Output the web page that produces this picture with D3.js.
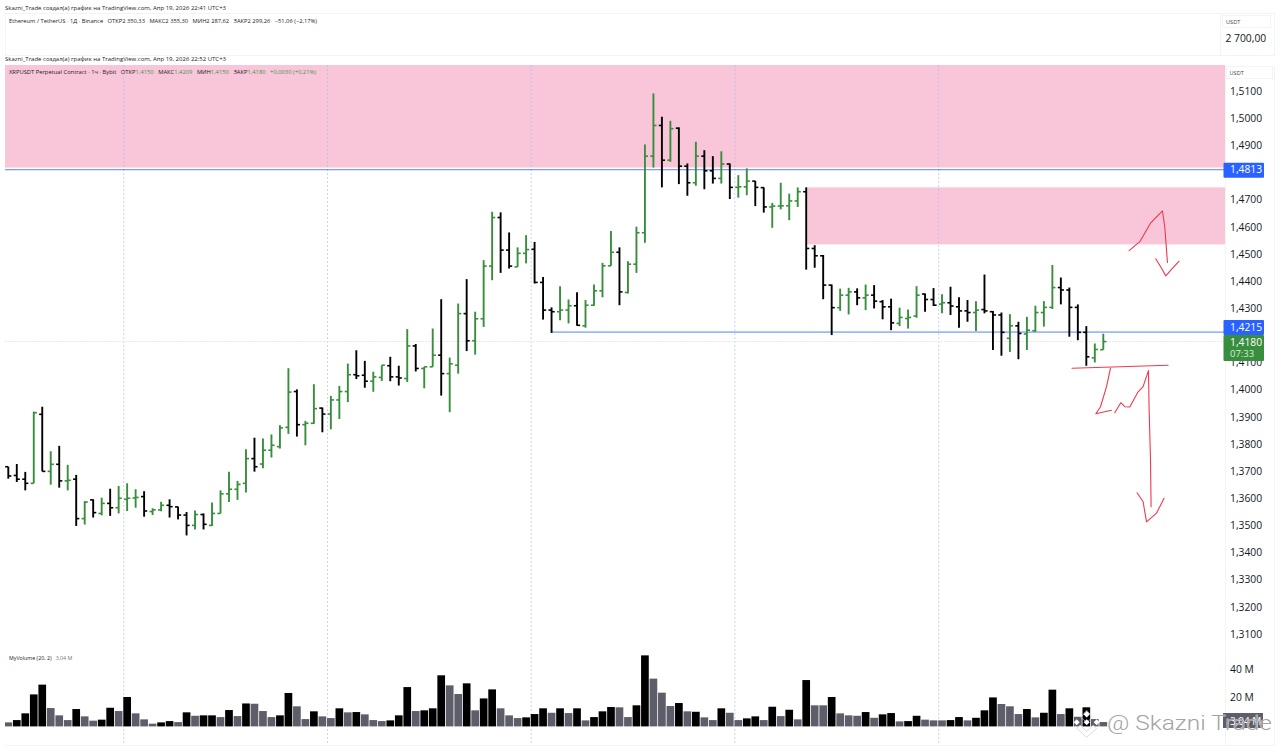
<!DOCTYPE html>
<html><head><meta charset="utf-8">
<script src="https://cdn.jsdelivr.net/npm/d3@7/dist/d3.min.js"></script>
<style>html,body{margin:0;padding:0;background:#fff;overflow:hidden}svg{display:block}svg text{white-space:pre}</style>
</head><body><svg id="c" width="1280" height="748"></svg>
<script>
const barOpen=[1.3719,1.3687,1.3673,1.3658,1.3912,1.3702,1.3728,1.3667,1.3673,1.3528,
1.3597,1.3547,1.3584,1.3568,1.3599,1.3604,1.3609,1.3554,1.3560,1.3577,
1.3571,1.3541,1.3503,1.3543,1.3503,1.3547,1.3619,1.3636,1.3658,1.3749,
1.3729,1.3780,1.3793,1.3864,1.3996,1.3874,1.3879,1.3935,1.3913,1.3965,
1.3996,1.4058,1.4056,1.4034,1.4048,1.4091,1.4050,1.4044,1.4164,1.4081,
1.4087,1.4130,1.4062,1.4093,1.4283,1.4183,1.4264,1.4458,1.4637,1.4517,
1.4455,1.4505,1.4520,1.4398,1.4296,1.4290,1.4296,1.4312,1.4238,1.4314,
1.4367,1.4459,1.4509,1.4361,1.4465,1.4581,1.4863,1.4976,1.4848,1.4966,
1.4826,1.4765,1.4863,1.4809,1.4781,1.4834,1.4748,1.4750,1.4771,1.4747,
1.4676,1.4679,1.4680,1.4698,1.4732,1.4523,1.4496,1.4388,1.4305,1.4351,
1.4363,1.4341,1.4351,1.4327,1.4308,1.4247,1.4265,1.4274,1.4355,1.4335,
1.4318,1.4323,1.4308,1.4293,1.4287,1.4298,1.4290,1.4278,1.4192,1.4238,
1.4208,1.4220,1.4287,1.4306,1.4379,1.4370,1.4306,1.4214,1.4120,1.4150];
const barHigh=[1.3719,1.3729,1.3700,1.3922,1.3940,1.3776,1.3796,1.3726,1.3689,1.3592,
1.3599,1.3605,1.3638,1.3648,1.3658,1.3636,1.3629,1.3566,1.3590,1.3599,
1.3572,1.3552,1.3558,1.3547,1.3587,1.3632,1.3701,1.3667,1.3783,1.3826,
1.3823,1.3838,1.3872,1.4082,1.4004,1.3888,1.4023,1.3937,1.3980,1.4017,
1.4099,1.4148,1.4109,1.4069,1.4093,1.4124,1.4091,1.4226,1.4171,1.4087,
1.4228,1.4336,1.4121,1.4320,1.4410,1.4290,1.4480,1.4658,1.4656,1.4582,
1.4527,1.4572,1.4547,1.4418,1.4306,1.4384,1.4335,1.4362,1.4333,1.4390,
1.4470,1.4587,1.4527,1.4476,1.4603,1.4906,1.5094,1.5008,1.4993,1.4969,
1.4836,1.4916,1.4885,1.4863,1.4881,1.4836,1.4793,1.4818,1.4772,1.4748,
1.4691,1.4765,1.4725,1.4748,1.4748,1.4535,1.4499,1.4390,1.4375,1.4378,
1.4376,1.4390,1.4388,1.4333,1.4338,1.4305,1.4298,1.4384,1.4357,1.4377,
1.4354,1.4382,1.4343,1.4333,1.4329,1.4427,1.4293,1.4287,1.4281,1.4253,
1.4271,1.4312,1.4329,1.4462,1.4416,1.4379,1.4317,1.4237,1.4173,1.4209];
const barLow=[1.3675,1.3663,1.3632,1.3658,1.3702,1.3653,1.3642,1.3632,1.3501,1.3506,
1.3532,1.3540,1.3538,1.3547,1.3556,1.3568,1.3535,1.3541,1.3555,1.3532,
1.3525,1.3466,1.3488,1.3488,1.3501,1.3547,1.3589,1.3597,1.3624,1.3701,
1.3713,1.3753,1.3786,1.3840,1.3830,1.3798,1.3877,1.3846,1.3857,1.3895,
1.3957,1.4042,1.4010,1.3995,1.4035,1.4034,1.4018,1.4031,1.4070,1.4008,
1.4087,1.3981,1.3920,1.4062,1.4145,1.4132,1.4234,1.4406,1.4433,1.4449,
1.4455,1.4468,1.4394,1.4261,1.4212,1.4259,1.4247,1.4238,1.4231,1.4312,
1.4343,1.4459,1.4314,1.4357,1.4433,1.4544,1.4821,1.4748,1.4842,1.4760,
1.4717,1.4754,1.4741,1.4762,1.4762,1.4705,1.4710,1.4719,1.4679,1.4655,
1.4599,1.4667,1.4627,1.4676,1.4445,1.4452,1.4336,1.4204,1.4293,1.4280,
1.4314,1.4296,1.4302,1.4262,1.4222,1.4237,1.4228,1.4268,1.4290,1.4311,
1.4284,1.4278,1.4231,1.4253,1.4219,1.4284,1.4149,1.4128,1.4142,1.4115,
1.4149,1.4216,1.4235,1.4300,1.4317,1.4198,1.4185,1.4091,1.4103,1.4150];
const barClose=[1.3685,1.3673,1.3658,1.3918,1.3702,1.3728,1.3667,1.3669,1.3528,1.3589,
1.3550,1.3584,1.3568,1.3603,1.3603,1.3606,1.3556,1.3560,1.3577,1.3572,
1.3541,1.3503,1.3543,1.3507,1.3547,1.3619,1.3636,1.3654,1.3749,1.3719,
1.3780,1.3798,1.3862,1.3994,1.3874,1.3879,1.3933,1.3913,1.3965,1.3996,
1.4058,1.4054,1.4034,1.4050,1.4093,1.4050,1.4046,1.4164,1.4081,1.4087,
1.4130,1.4062,1.4098,1.4283,1.4183,1.4264,1.4458,1.4637,1.4517,1.4458,
1.4505,1.4519,1.4398,1.4296,1.4290,1.4296,1.4312,1.4240,1.4314,1.4367,
1.4459,1.4509,1.4363,1.4465,1.4581,1.4863,1.4976,1.4848,1.4964,1.4826,
1.4765,1.4863,1.4809,1.4781,1.4834,1.4748,1.4750,1.4771,1.4748,1.4676,
1.4679,1.4680,1.4698,1.4732,1.4523,1.4496,1.4388,1.4305,1.4351,1.4363,
1.4341,1.4351,1.4329,1.4308,1.4249,1.4269,1.4269,1.4351,1.4335,1.4314,
1.4323,1.4311,1.4293,1.4287,1.4296,1.4293,1.4278,1.4214,1.4238,1.4210,
1.4222,1.4287,1.4306,1.4379,1.4370,1.4306,1.4214,1.4124,1.4151,1.4180];
const volumes=[2.8,4.4,9.1,22.3,29.1,12.8,7.7,4.4,12.1,7.0,4.0,4.7,13.0,10.7,20.5,9.1,4.9,1.9,2.8,3.7,
3.0,9.8,7.4,7.7,7.7,6.5,11.4,7.2,16,15.8,10.7,6.5,7.7,23.3,14.0,5.1,10.5,7.0,5.8,12.6,
9.8,10,8.4,4.4,3.7,4.2,7.7,27.4,10.7,11.2,12.6,35.6,28.6,22.6,30,11.2,19.5,25.8,12.6,7.7,
5.8,6.3,8.6,12.6,9.5,12.6,9.3,12.6,4.2,6.5,10.5,13.5,13.3,6.5,14.7,49.5,33.3,23.5,14.2,16.3,
10.5,10.2,6.3,4.4,12.6,9.5,4.4,5.6,7.0,4.4,13.7,7.2,11.6,4.9,32.3,14.7,14.7,20.5,9.1,7.7,
7.4,10,6,8.4,9.3,3.5,3.7,7.4,4.7,4.2,4.2,4.4,6.5,4.2,6,11.2,20.2,15.6,14,8.6,
12.1,6.3,9.5,25.6,8.6,12.6,6.7,13.3,5.1,3.04];
const volumeDark="gkkkkgggkg"+"gkkgkgggkk"+"gkgkkgkgkg"+"ggkkggkggk"+"gkgggkkkgk"+"kkggkgkkgg"+"gkkkgkgkgk"+"kkggkkgggk"+"gkggkggkkg"+"kgkgkggkgg"+"gkgkkgkkgg"+"gkkgkkkggg"+"kgkkgkgkgg";
const priceTicks=d3.range(31,52).filter(d=>d!==42&&d!==48).map(d=>d/100+1);
const volumeTicks=[20,40];
const gridBars=[13.6,37.6,61.6,85.6,109.6];
const levelPrices=[1.4813,1.4215];
const lastPrice=1.4180;
const zonePrices=[[1.5205,1.4821,0,1],[1.4748,1.4538,94.1,1]];
const sketches=[
[[132.04,1.4515],[133.3,1.4548],[134.56,1.4616],[135.97,1.4661],[136.24,1.4603],[136.56,1.4471]],
[[135.18,1.4485],[135.86,1.4450],[136.36,1.4422],[137.03,1.4446],[137.93,1.4476]],
[[125.32,1.4082],[136.63,1.4093]],
[[129.85,1.4082],[129.38,1.4014],[128.67,1.3940],[128.12,1.3914],[129.96,1.3927]],
[[130.35,1.3918],[131.06,1.3955],[131.53,1.3940],[132.12,1.3939],[133.10,1.3995],[133.69,1.4014],[134.32,1.4073],[134.39,1.3940],[134.56,1.3744],[134.63,1.3572]],
[[132.98,1.3623],[133.69,1.3590],[134.09,1.3516],[135.27,1.3548],[136.16,1.3603]]];

const UI='"Open Sans",sans-serif', GREEN='#388e3c', BLUE='#2962ff', PINK='#f9c6d9';
const svg=d3.select('#c');
const x=d3.scaleLinear().domain([0,129]).range([8.3,1103.3]);
const y=d3.scaleLinear().domain([1.51,1.31]).range([91.8,634.8]);
const v=d3.scaleLinear().domain([0,40]).range([726.4,669]);
const bw=x(1)-x(0);
svg.append('defs').append('clipPath').attr('id','pane').append('rect').attr('x',5).attr('y',65).attr('width',1220).attr('height',680);
const plot=svg.append('g').attr('clip-path','url(#pane)');

// pink zones
const zoneData=zonePrices.map(z=>({top:z[0],bot:z[1],start:z[2]}));
plot.selectAll('rect.zone').data(zoneData).join('rect').attr('class','zone')
 .attr('x',d=>d.start?x(d.start):5).attr('y',d=>y(d.top))
 .attr('width',d=>1225-(d.start?x(d.start):5)).attr('height',d=>y(d.bot)-y(d.top)).attr('fill',PINK);

// grid
plot.selectAll('line.g').data(gridBars).join('line').attr('class','g')
 .attr('x1',d=>x(d)).attr('x2',d=>x(d)).attr('y1',65).attr('y2',745)
 .attr('stroke','#9db8f0').attr('stroke-opacity',.6).attr('stroke-width',1).attr('stroke-dasharray','2 2');
// last price line
plot.append('line').attr('x1',5).attr('x2',1225).attr('y1',y(lastPrice)).attr('y2',y(lastPrice))
 .attr('stroke','#e9e9e3').attr('stroke-width',1).attr('stroke-dasharray','2 1');

// frame
const frame=svg.append('g').attr('stroke','#f3f4f7').attr('fill','none');
frame.append('rect').attr('x',5.5).attr('y',13.5).attr('width',1269).attr('height',42);
frame.append('line').attr('x1',5).attr('x2',1275).attr('y1',745.5).attr('y2',745.5);
frame.append('line').attr('x1',1274.5).attr('x2',1274.5).attr('y1',65).attr('y2',745);
frame.append('line').attr('x1',1220.5).attr('x2',1220.5).attr('y1',14).attr('y2',55);
frame.append('line').attr('x1',1225.5).attr('x2',1225.5).attr('y1',66).attr('y2',745);
frame.append('rect').attr('x',1222.5).attr('y',15.5).attr('width',48).attr('height',12);
frame.append('rect').attr('x',1226.5).attr('y',66.5).attr('width',46).attr('height',12);

// levels
plot.selectAll('line.lv').data(levelPrices).join('line').attr('class','lv')
 .attr('x1',(d,i)=>i?x(64):5).attr('x2',1225).attr('y1',d=>y(d)).attr('y2',d=>y(d))
 .attr('stroke',BLUE).attr('stroke-opacity',.8).attr('stroke-width',1);

// volume
const bars=barOpen.map((o,i)=>({i,o,h:barHigh[i],l:barLow[i],c:barClose[i],vol:volumes[i],dark:volumeDark[i]==='k'}));
plot.selectAll('rect.v').data(bars).join('rect').attr('class','v')
 .attr('x',d=>x(d.i)-bw/2+.4).attr('width',bw-.8).attr('y',d=>v(d.vol)).attr('height',d=>v(0)-v(d.vol))
 .attr('fill',d=>d.dark?'#000':'#5e5e6a');

// OHLC bars
const gb=plot.selectAll('g.b').data(bars).join('g').attr('class','b')
 .attr('stroke',d=>d.c>=d.o?GREEN:'#000').attr('fill','none');
gb.append('line').attr('x1',d=>x(d.i)).attr('x2',d=>x(d.i)).attr('y1',d=>y(d.h)).attr('y2',d=>y(d.l)).attr('stroke-width',1.9);
gb.append('line').attr('x1',d=>x(d.i)-3.1).attr('x2',d=>x(d.i)).attr('y1',d=>y(d.o)).attr('y2',d=>y(d.o)).attr('stroke-width',1.6);
gb.append('line').attr('x1',d=>x(d.i)).attr('x2',d=>x(d.i)+3.1).attr('y1',d=>y(d.c)).attr('y2',d=>y(d.c)).attr('stroke-width',1.6);

// hand drawn
const sk=d3.line().x(d=>x(d[0])).y(d=>y(d[1]));
svg.selectAll('path.sk').data(sketches).join('path').attr('class','sk').attr('d',sk)
 .attr('fill','none').attr('stroke','#f0394d').attr('stroke-width',1.1).attr('stroke-linejoin','round').attr('stroke-linecap','round');

// axes
const fmt=d=>d.toFixed(4).replace('.',',');
const axP=svg.append('g').attr('transform','translate(1225,-0.8)')
 .call(d3.axisRight(y).tickValues(priceTicks).tickFormat(fmt).tickSize(0).tickPadding(5));
axP.select('.domain').remove();
axP.selectAll('text').attr('fill','#131722').attr('font-family',UI).attr('font-size',10.3);
const axV=svg.append('g').attr('transform','translate(1225,0)')
 .call(d3.axisRight(v).tickValues(volumeTicks).tickFormat(d=>d+' M').tickSize(0).tickPadding(5));
axV.select('.domain').remove();
axV.selectAll('text').attr('fill','#131722').attr('font-family',UI).attr('font-size',10.3);

function txt(s,px,py,size,fill,extra){const t=svg.append('text').attr('x',px).attr('y',py).attr('font-family',UI).attr('font-size',size).attr('fill',fill||'#131722').text(s);if(extra)t.attr('text-anchor',extra);return t;}
txt('USDT',1226,23.7,5.6,'#444');
txt('USDT',1229.5,75,5.6,'#444');
txt('2 700,00',1225.5,41.5,10.3);

// price labels
function tag(py,h,col){svg.append('rect').attr('x',1223.5).attr('y',py).attr('width',40.5).attr('height',h).attr('fill',col).attr('rx',1);}
tag(y(levelPrices[0])-7,15,BLUE); txt(fmt(levelPrices[0]),1230,y(levelPrices[0])+3.7,10.3,'#fff');
tag(320,15,BLUE); txt(fmt(levelPrices[1]),1230,330.5,10.3,'#fff');
tag(335,26,GREEN); txt(fmt(lastPrice),1230,345.5,10.3,'#fff'); txt('07:33',1230,356.5,9.5,'#d8ecd8');

// legends
function rich(px,py,parts,size){const t=svg.append('text').attr('x',px).attr('y',py).attr('font-family',UI).attr('font-size',size);
 parts.forEach(p=>t.append('tspan').attr('fill',p[1]||'#222').text(p[0]));return t;}
txt('Skazni_Trade создал(а) график на TradingView.com, Апр 19, 2026 22:41 UTC+3',5,9.5,5.3,'#222').attr('textLength',221).attr('lengthAdjust','spacingAndGlyphs');
txt('Skazni_Trade создал(а) график на TradingView.com, Апр 19, 2026 22:52 UTC+3',5,60.5,5.3,'#222').attr('textLength',221).attr('lengthAdjust','spacingAndGlyphs');
rich(9,23,[['Ethereum / TetherUS · 1Д · Binance   ОТКР2 350,33   МАКС2 355,30   МИН2 287,62   ЗАКР2 299,26   −51,06 (−2,17%)']],5.3).attr('textLength',308).attr('lengthAdjust','spacingAndGlyphs');
const g2='#43944a';
rich(9,74,[['XRPUSDT Perpetual Contract · 1ч · Bybit   ОТКР'],['1,4150',g2],['   МАКС'],['1,4209',g2],['   МИН'],['1,4150',g2],['   ЗАКР'],['1,4180',g2],['   '],['+0,0030 (+0,21%)',g2]],5.3).attr('textLength',307).attr('lengthAdjust','spacingAndGlyphs');
rich(9,660,[['MyVolume (20, 2)   '],['3,04 M','#777']],5.3);

// volume last tag + watermark
svg.append('rect').attr('x',1223).attr('y',713).attr('width',40).attr('height',15).attr('fill','#5e5e6a');
txt('3,04 M',1230,724.5,10,'#fff');
const wm=svg.append('g');
const lx=1086.7, ly=722.3;
const dia=(cx,cy,r,fill,stroke)=>wm.append('path').attr('d',`M${cx} ${cy-r}L${cx+r} ${cy}L${cx} ${cy+r}L${cx-r} ${cy}Z`).attr('fill',fill).attr('stroke',stroke||'none');
wm.append('path').attr('d',`M${lx-10} ${ly+6}L${lx} ${ly+15}L${lx+10} ${ly+6}L${lx+6.5} ${ly+3}L${lx} ${ly+9}L${lx-6.5} ${ly+3}Z`).attr('fill','#fff').attr('stroke','#ccc').attr('stroke-width',.7);
wm.append('path').attr('d',`M${lx-6} ${ly-5}L${lx} ${ly-12}L${lx+6} ${ly-5}L${lx} ${ly}Z`).attr('fill','none').attr('stroke','#ddd').attr('stroke-width',.6);
dia(lx,ly-8,3.2,'#fff'); dia(lx-10,ly,3,'#fff'); dia(lx+10,ly,3,'#fff'); dia(lx,ly,3,'#fff');
wm.append('text').attr('x',1107).attr('y',730).attr('font-family','Roboto,sans-serif').attr('font-weight',300).attr('font-size',21).attr('fill','#a3a3a3').attr('stroke','#fff').attr('stroke-width',.4).attr('paint-order','stroke').attr('textLength',165).attr('lengthAdjust','spacingAndGlyphs').text('@ Skazni Trade');
</script></body></html>
